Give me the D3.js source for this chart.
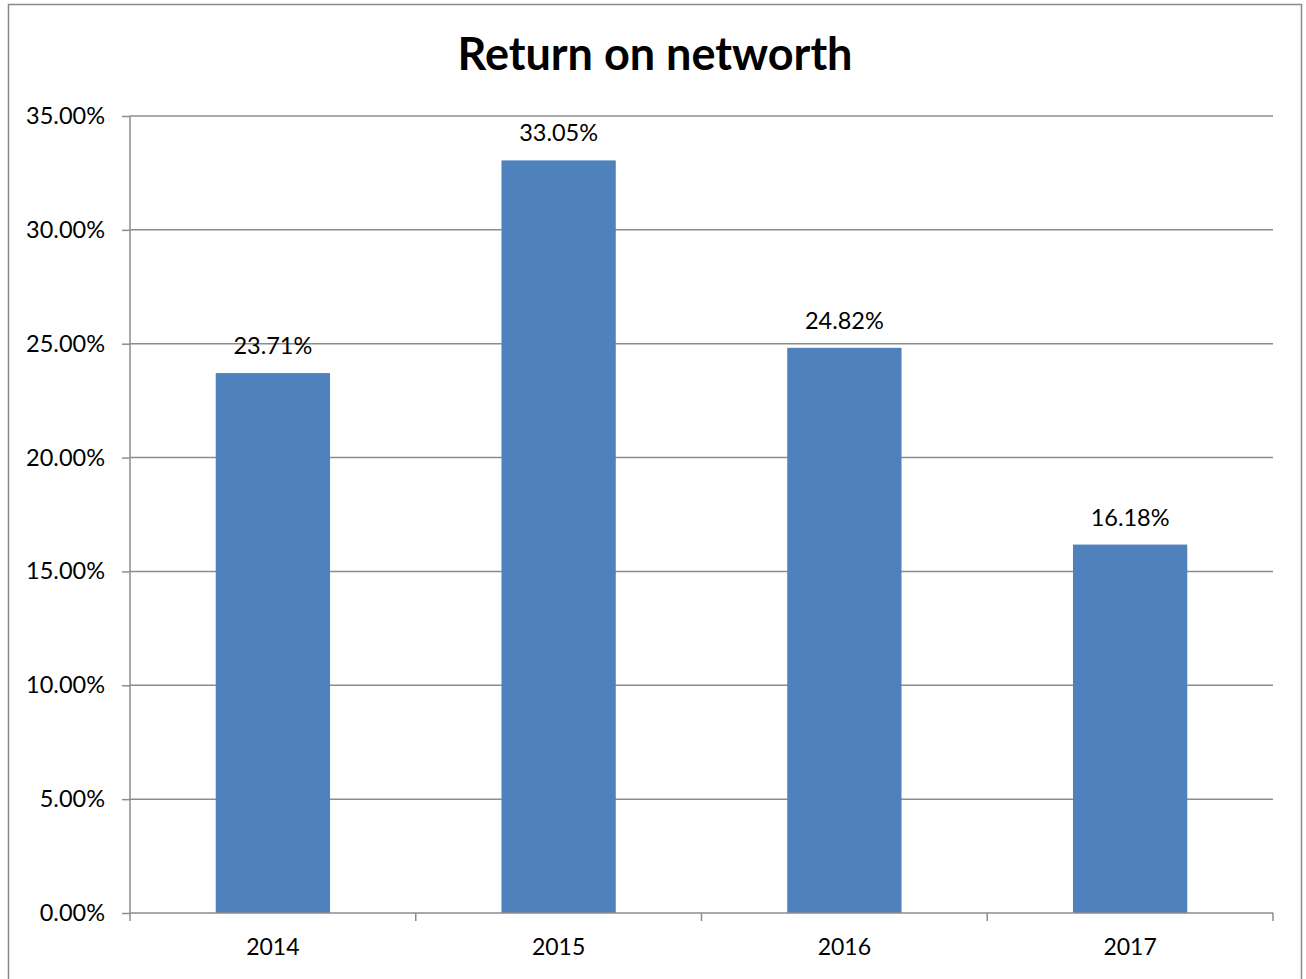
<!DOCTYPE html>
<html><head><meta charset="utf-8">
<script src="https://cdn.jsdelivr.net/npm/d3@7"></script>
<style>body{margin:0;background:#fff}svg{display:block}text{font-family:Lato,"Open Sans",sans-serif}</style>
</head><body>
<svg id="c" width="1306" height="979"></svg>
<script>
const categories = ["2014","2015","2016","2017"];
const values = [23.71, 33.05, 24.82, 16.18];
const yTicks = [0,5,10,15,20,25,30,35];
const title = "Return on networth";

const svg = d3.select("#c");
const m = {left:130, right:1273, top:116, bottom:913};
svg.append("rect").attr("x",8.5).attr("y",4.5).attr("width",1293).attr("height",1000)
  .attr("fill","#fff").attr("stroke","#898989").attr("stroke-width",1.5);

const x = d3.scaleBand().domain(categories).range([m.left,m.right]).padding(0);
const y = d3.scaleLinear().domain([0,35]).range([m.bottom,m.top]);

// gridlines
svg.append("g").selectAll("line").data(yTicks.filter(d=>d>0)).join("line")
  .attr("x1",m.left).attr("x2",m.right).attr("y1",d=>y(d)).attr("y2",d=>y(d))
  .attr("stroke","#8c8c8c").attr("stroke-width",1.5);

// bars
const bw = x.bandwidth()*0.4;
svg.append("g").selectAll("rect").data(values).join("rect")
  .attr("x",(d,i)=>x(categories[i])+x.bandwidth()/2-bw/2)
  .attr("width",bw)
  .attr("y",d=>y(d)).attr("height",d=>y(0)-y(d))
  .attr("fill","#4F81BD");

// data labels
svg.append("g").selectAll("text").data(values).join("text")
  .attr("x",(d,i)=>x(categories[i])+x.bandwidth()/2)
  .attr("y",d=>y(d)-19)
  .attr("text-anchor","middle").attr("font-size",23.5).attr("fill","#000")
  .text(d=>d.toFixed(2)+"%");

// y axis
const ya = d3.axisLeft(y).tickValues(yTicks).tickFormat(d=>d.toFixed(2)+"%").tickSize(8).tickPadding(17);
const gy = svg.append("g").attr("transform",`translate(${m.left},0)`).call(ya);
gy.select(".domain").attr("stroke","#8c8c8c").attr("stroke-width",1.5).attr("d",`M0,${m.top}V${m.bottom}`);
gy.selectAll(".tick line").attr("stroke","#8c8c8c").attr("stroke-width",1.5);
gy.selectAll(".tick text").attr("font-size",23.5).attr("fill","#000").attr("font-family","Lato");

// x axis
const ga = svg.append("g").attr("transform",`translate(0,${m.bottom})`);
ga.append("line").attr("x1",m.left).attr("x2",m.right).attr("stroke","#8c8c8c").attr("stroke-width",1.5);
const edges = categories.map(c=>x(c)).concat([m.right]);
ga.selectAll("line.t").data(edges).join("line").attr("class","t")
  .attr("x1",d=>d).attr("x2",d=>d).attr("y1",0).attr("y2",8)
  .attr("stroke","#8c8c8c").attr("stroke-width",1.5);
ga.selectAll("text").data(categories).join("text")
  .attr("x",d=>x(d)+x.bandwidth()/2).attr("y",42)
  .attr("text-anchor","middle").attr("font-size",23).attr("fill","#000").text(d=>d);

svg.append("text").attr("x",655).attr("y",70).attr("text-anchor","middle")
  .attr("font-size",45).attr("font-weight","bold").attr("fill","#000").text(title);
</script>
</body></html>
